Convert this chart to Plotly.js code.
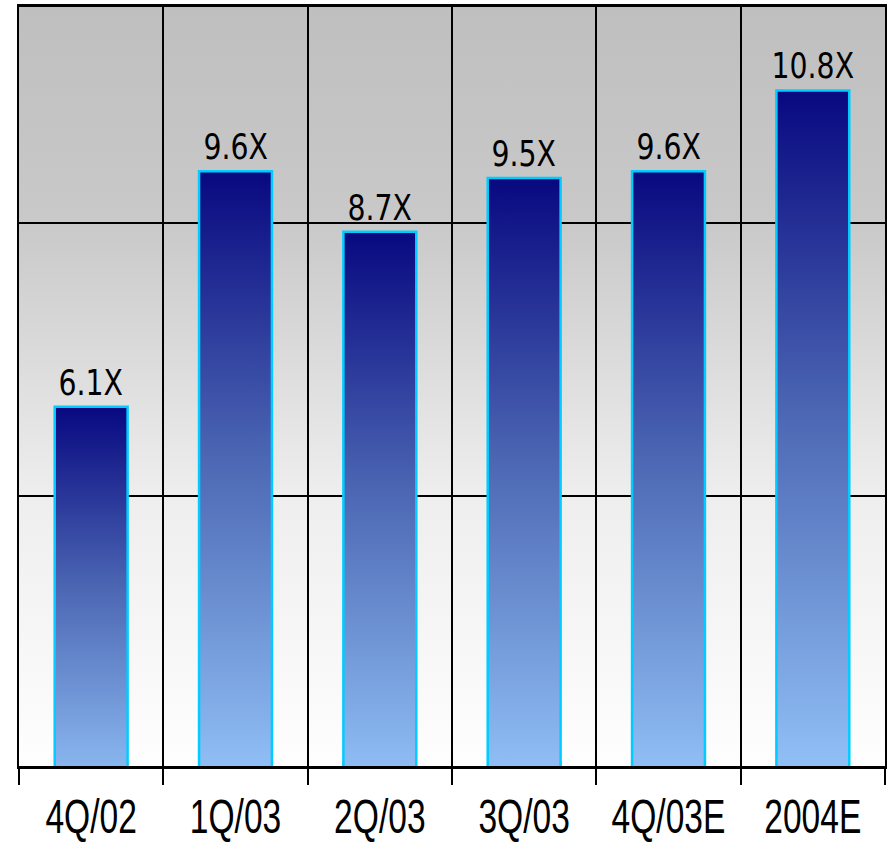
<!DOCTYPE html>
<html>
<head>
<meta charset="utf-8">
<script src="https://cdn.plot.ly/plotly-3.0.1.min.js"></script>
<style>
  html, body { margin: 0; padding: 0; background: #ffffff; }
  #chart { width: 889px; height: 844px; }
</style>
</head>
<body>
<div id="chart"></div>
<script>
// ---- data ----
var categories = ["4Q/02", "1Q/03", "2Q/03", "3Q/03", "4Q/03E", "2004E"];
var multiples = [6.1, 9.6, 8.7, 9.5, 9.6, 10.8];
var labels = ["6.1X", "9.6X", "8.7X", "9.5X", "9.6X", "10.8X"];

var bars = {
  type: "bar",
  x: categories,
  y: multiples,
  width: 0.505,
  marker: { color: "#4a64b0", line: { color: "#00ccff", width: 2.5 } },
  hoverinfo: "none"
};

var annotations = categories.map(function (c, i) {
  return {
    x: c, y: multiples[i], text: labels[i],
    xref: "x", yref: "y", showarrow: false,
    yanchor: "bottom", yshift: 2,
    font: { family: "DejaVu Sans Condensed, DejaVu Sans", size: 35, color: "#000000" }
  };
});

var layout = {
  width: 889, height: 844,
  margin: { l: 19, r: 4, t: 7, b: 78 },
  paper_bgcolor: "#ffffff",
  plot_bgcolor: "#c8c8c8",
  showlegend: false,
  bargap: 0.495,
  xaxis: {
    type: "category",
    tickson: "boundaries",
    tickangle: 0,
    ticks: "outside", ticklen: 16, tickwidth: 2, tickcolor: "#000000",
    showgrid: true, gridcolor: "#000000", gridwidth: 2,
    showline: true, linecolor: "#000000", linewidth: 3, mirror: true,
    tickfont: { family: "Liberation Sans, Arial", size: 48, color: "#000000" },
    ticklabelstandoff: 6,
    fixedrange: true
  },
  yaxis: {
    range: [0.76, 12.04],
    tickvals: [4.78, 8.83],
    showticklabels: false,
    ticks: "",
    showgrid: true, gridcolor: "#000000", gridwidth: 2,
    zeroline: false,
    showline: true, linecolor: "#000000", linewidth: 2, mirror: true,
    fixedrange: true
  },
  annotations: annotations
};

function squeeze(el, sx) {
  var x = parseFloat(el.getAttribute("x")) || 0;
  var y = parseFloat(el.getAttribute("y")) || 0;
  var t = el.getAttribute("transform") || "";
  el.setAttribute("transform", t + " translate(" + x + "," + y + ") scale(" + sx + ",1) translate(" + (-x) + "," + (-y) + ")");
}

function addGradients(gd) {
  var svgNS = "http://www.w3.org/2000/svg";
  var svg = gd.querySelector("svg.main-svg");
  var defs = svg.querySelector("defs");
  if (!defs) { defs = document.createElementNS(svgNS, "defs"); svg.insertBefore(defs, svg.firstChild); }
  function grad(id, stops) {
    var g = document.createElementNS(svgNS, "linearGradient");
    g.setAttribute("id", id);
    g.setAttribute("x1", "0"); g.setAttribute("y1", "0");
    g.setAttribute("x2", "0"); g.setAttribute("y2", "1");
    stops.forEach(function (s) {
      var st = document.createElementNS(svgNS, "stop");
      st.setAttribute("offset", s[0]);
      st.setAttribute("stop-color", s[1]);
      g.appendChild(st);
    });
    defs.appendChild(g);
  }
  grad("barGrad", [[0, "#080880"], [0.45, "#4d68b4"], [1, "#9accff"]]);
  grad("bgGrad", [[0, "#bfbfbf"], [0.285, "#c9c9c9"], [0.644, "#eeeeee"], [1, "#fefefe"]]);
  gd.querySelectorAll(".barlayer .point path").forEach(function (p) {
    p.style.fill = "url(#barGrad)";
  });
  gd.querySelectorAll(".bglayer rect.bg").forEach(function (r) {
    r.style.fill = "url(#bgGrad)";
  });
  gd.querySelectorAll(".xtick text").forEach(function (t) { squeeze(t, 0.7); });
  gd.querySelectorAll(".annotation-text").forEach(function (t) { squeeze(t, 0.9); });
}

Plotly.newPlot("chart", [bars], layout, { displayModeBar: false, staticPlot: true })
  .then(addGradients);
</script>
</body>
</html>
